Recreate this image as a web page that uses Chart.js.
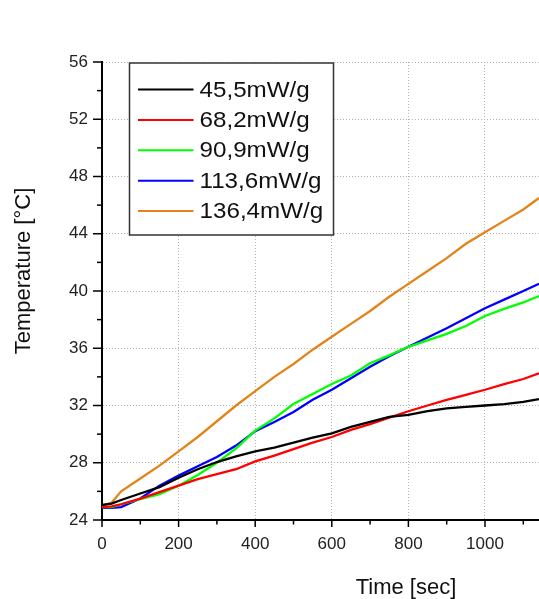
<!DOCTYPE html>
<html>
<head>
<meta charset="utf-8">
<script src="https://cdn.jsdelivr.net/npm/chart.js@4.4.0/dist/chart.umd.min.js"></script>
<style>
html,body{margin:0;padding:0;background:#fff;overflow:hidden;}
#wrap{position:relative;width:539px;height:599px;}
</style>
</head>
<body>
<div id="wrap"><canvas id="c" width="539" height="599"></canvas></div>
<script>
// ---- data ----
const timeSec = [0,25,50,100,150,200,250,300,350,400,450,500,550,600,650,700,750,800,850,900,950,1000,1050,1100,1141];
const seriesLabels = ['45,5mW/g','68,2mW/g','90,9mW/g','113,6mW/g','136,4mW/g'];
const temp45 = [25.05,25.15,25.4,25.85,26.3,26.95,27.55,28.05,28.45,28.8,29.05,29.4,29.75,30.05,30.5,30.85,31.2,31.35,31.6,31.8,31.9,32.0,32.1,32.25,32.45];
const temp68 = [24.9,24.95,25.1,25.5,25.95,26.4,26.85,27.2,27.55,28.1,28.5,28.95,29.4,29.8,30.3,30.7,31.15,31.6,32.0,32.4,32.75,33.1,33.5,33.85,34.25];
const temp91 = [24.9,24.9,25.1,25.45,25.8,26.4,27.15,28.0,29.0,30.25,31.1,32.1,32.8,33.5,34.1,34.95,35.5,36.1,36.55,37.0,37.55,38.25,38.75,39.2,39.65];
const temp114 = [24.85,24.85,24.9,25.5,26.4,27.1,27.75,28.4,29.2,30.2,30.85,31.55,32.4,33.1,33.9,34.7,35.45,36.1,36.75,37.4,38.1,38.8,39.4,40.0,40.5];
const temp136 = [25.0,25.2,26.0,26.9,27.8,28.8,29.8,30.9,32.0,33.0,34.0,34.9,35.9,36.8,37.7,38.6,39.6,40.5,41.4,42.3,43.3,44.1,44.9,45.7,46.5];
const xMajorTicks = [0,200,400,600,800,1000];
const xMinorTicks = [100,300,500,700,900,1100];
const yMajorTicks = [24,28,32,36,40,44,48,52,56];
const yMinorTicks = [26,30,34,38,42,46,50,54];
const xTitle = 'Time [sec]';
const yTitle = 'Temperature [°C]';

const colors = ['#000000','#ff0000','#00ff00','#0000ff','#e3841a'];
const allTemps = [temp45,temp68,temp91,temp114,temp136];

const FONT = '"Liberation Sans", Arial, sans-serif';

const datasets = allTemps.map((arr,i)=>({
  label: seriesLabels[i],
  data: timeSec.map((t,j)=>({x:t,y:arr[j]})),
  borderColor: colors[i],
  backgroundColor: colors[i],
  borderWidth: 2.3,
  pointRadius: 0,
  tension: 0,
  fill: false
}));

const decor = {
  id:'decor',
  afterDraw(chart){
    const ctx = chart.ctx;
    const xs = chart.scales.x, ys = chart.scales.y;
    const ca = chart.chartArea;
    ctx.save();
    ctx.strokeStyle = '#000';
    ctx.lineWidth = 1.5;
    // x ticks (outward)
    xMajorTicks.forEach(v=>{const p=xs.getPixelForValue(v);ctx.beginPath();ctx.moveTo(p,ca.bottom);ctx.lineTo(p,ca.bottom+7);ctx.stroke();});
    xMinorTicks.forEach(v=>{const p=xs.getPixelForValue(v);if(p>ca.right)return;ctx.beginPath();ctx.moveTo(p,ca.bottom);ctx.lineTo(p,ca.bottom+4.5);ctx.stroke();});
    yMajorTicks.forEach(v=>{const p=ys.getPixelForValue(v);ctx.beginPath();ctx.moveTo(ca.left,p);ctx.lineTo(ca.left-9,p);ctx.stroke();});
    yMinorTicks.forEach(v=>{const p=ys.getPixelForValue(v);ctx.beginPath();ctx.moveTo(ca.left,p);ctx.lineTo(ca.left-5,p);ctx.stroke();});

    // legend box
    const bx = ca.left+27.5, by = ca.top+1, bw = 204, bh = 172;
    ctx.fillStyle = '#fff';
    ctx.fillRect(bx,by,bw,bh);
    ctx.strokeStyle = '#333';
    ctx.lineWidth = 1.5;
    ctx.strokeRect(bx,by,bw,bh);
    chart.data.datasets.forEach((ds,i)=>{
      const yy = by + 26.5 + i*30.4;
      ctx.strokeStyle = ds.borderColor;
      ctx.lineWidth = 2;
      ctx.beginPath();ctx.moveTo(bx+8.5,yy);ctx.lineTo(bx+64,yy);ctx.stroke();
      ctx.save();
      ctx.translate(bx+70,yy);
      ctx.scale(1.1,1);
      ctx.fillStyle = '#111';
      ctx.font = '22px '+FONT;
      ctx.textBaseline = 'middle';
      ctx.textAlign = 'left';
      ctx.fillText(ds.label,0,1);
      ctx.restore();
    });

    // axis titles
    ctx.fillStyle = '#111';
    ctx.font = '22px '+FONT;
    ctx.textAlign = 'center';
    ctx.textBaseline = 'alphabetic';
    ctx.fillText(xTitle, 406, 594);
    ctx.save();
    ctx.translate(30, 271);
    ctx.rotate(-Math.PI/2);
    ctx.fillText(yTitle, 0, 0);
    ctx.restore();
    ctx.restore();
  }
};

new Chart(document.getElementById('c'), {
  type:'line',
  data:{datasets},
  plugins:[decor],
  options:{
    responsive:false,
    animation:false,
    layout:{padding:{top:62,right:0,left:0,bottom:0}},
    plugins:{legend:{display:false},tooltip:{enabled:false}},
    scales:{
      x:{
        type:'linear', min:0, max:1141,
        afterFit(s){ s.height = 79; },
        ticks:{stepSize:200, includeBounds:false, padding:14, color:'#222', font:{family:FONT,size:17}, maxRotation:0,
               callback:(v)=>String(v)},
        grid:{color:'#b4b4b4', lineWidth:1, drawTicks:false},
        border:{color:'#000', width:2, dash:[1,2]}
      },
      y:{
        type:'linear', min:24, max:56,
        afterFit(s){ s.width = 102; },
        ticks:{stepSize:4, padding:14, color:'#222', font:{family:FONT,size:17}, callback:(v)=>String(v)},
        grid:{color:'#b4b4b4', lineWidth:1, drawTicks:false},
        border:{color:'#000', width:2, dash:[1,2]}
      }
    }
  }
});
</script>
</body>
</html>
